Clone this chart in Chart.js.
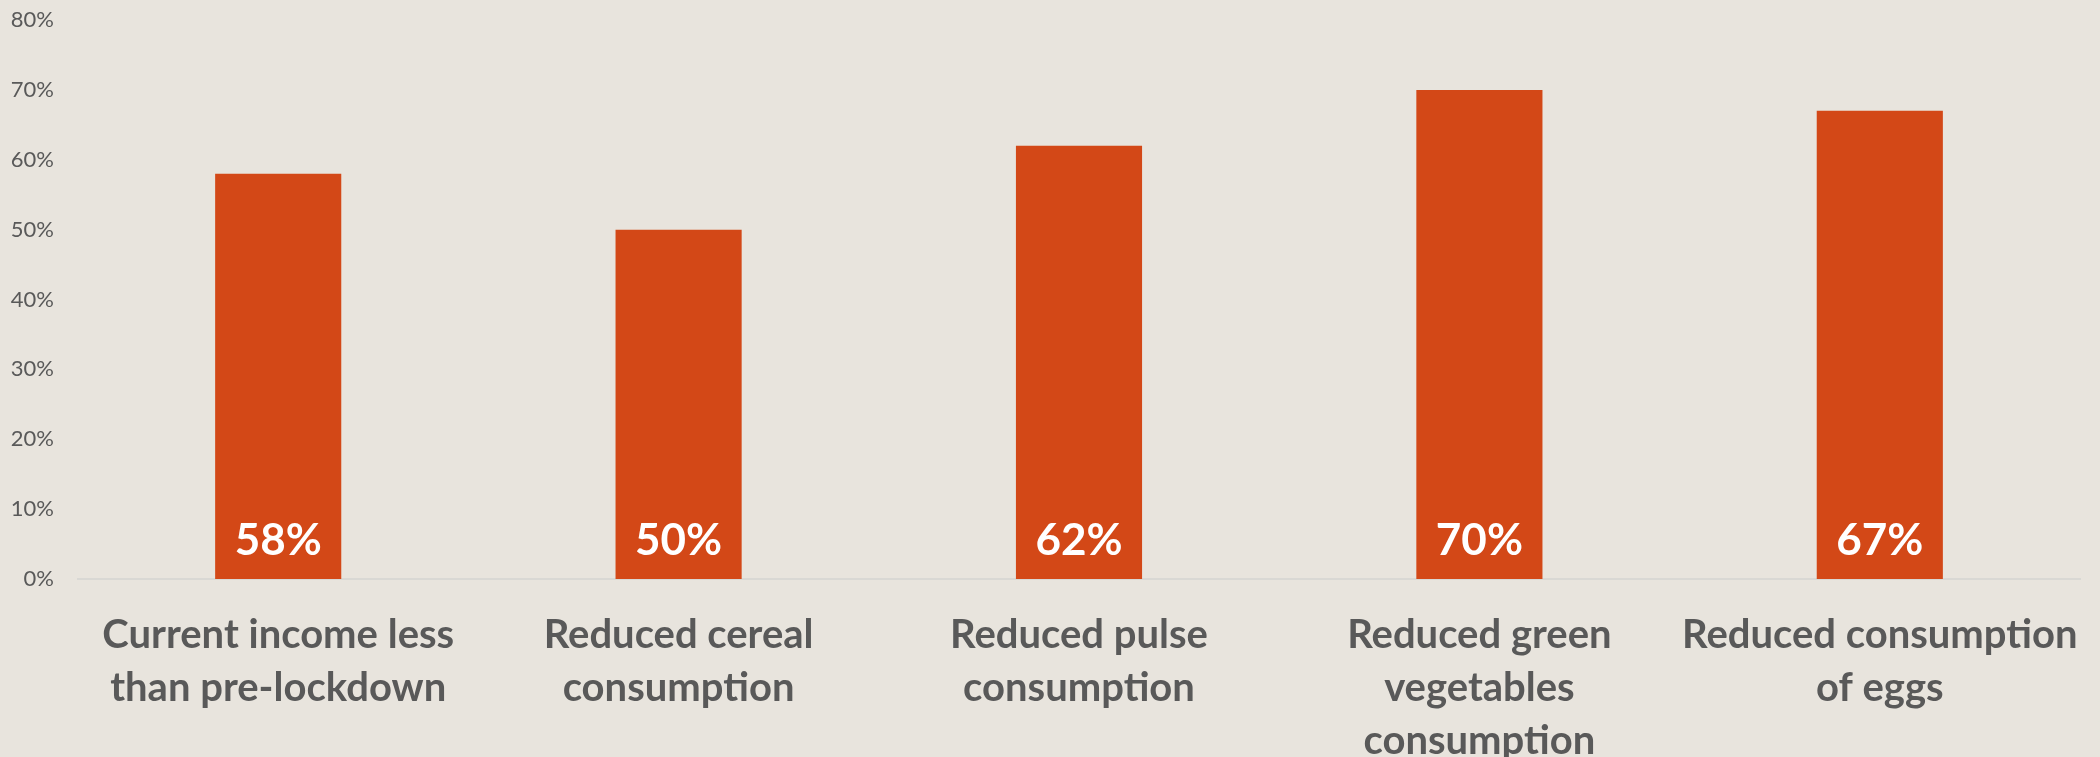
<!DOCTYPE html>
<html>
<head>
<meta charset="utf-8">
<script src="https://cdn.jsdelivr.net/npm/chart.js@4.4.1/dist/chart.umd.min.js"></script>
<style>
  html, body { margin: 0; padding: 0; background: #e8e4dd; }
  #wrap { width: 2100px; height: 757px; }
</style>
</head>
<body>
<div id="wrap"><canvas id="lockdownChart"></canvas></div>
<script>
const categories = [
  ['Current income less', 'than pre-lockdown'],
  ['Reduced cereal', 'consumption'],
  ['Reduced pulse', 'consumption'],
  ['Reduced green', 'vegetables', 'consumption'],
  ['Reduced consumption', 'of eggs']
];
const shares = [58, 50, 62, 70, 67];
const yTicks = [0, 10, 20, 30, 40, 50, 60, 70, 80];

const fontFamily = 'Lato, "Open Sans", sans-serif';
const barColor = '#d34817';
const textColor = '#595959';

// white percentage near the foot of each bar
const barValueLabels = {
  id: 'barValueLabels',
  afterDatasetsDraw(chart) {
    const ctx = chart.ctx;
    const meta = chart.getDatasetMeta(0);
    ctx.save();
    ctx.fillStyle = '#ffffff';
    ctx.font = 'bold 44px ' + fontFamily;
    ctx.textAlign = 'center';
    ctx.textBaseline = 'middle';
    meta.data.forEach(function (bar, i) {
      ctx.fillText(shares[i] + '%', bar.x, bar.base - 38);
    });
    ctx.restore();
  }
};

var ctx1 = document.getElementById('lockdownChart');
const lockdownChart = new Chart(ctx1, {
  type: 'bar',
  data: {
    labels: categories,
    datasets: [{
      data: shares,
      backgroundColor: barColor,
      borderWidth: 0,
      barPercentage: 1,
      categoryPercentage: 0.315
    }]
  },
  options: {
    responsive: true,
    maintainAspectRatio: false,
    animation: false,
    layout: {
      padding: { top: 20, right: 20, left: 0, bottom: 0 }
    },
    plugins: {
      legend: { display: false },
      tooltip: { enabled: false }
    },
    scales: {
      y: {
        min: 0,
        max: 80,
        afterBuildTicks: function (axis) {
          axis.ticks = yTicks.map(function (v) { return { value: v }; });
        },
        afterFit: function (axis) {
          // fixed gutter; tick padding should not push the plot down
          axis.width = 78;
          axis.paddingTop = 0;
          axis.paddingBottom = 0;
        },
        grid: { display: false, drawTicks: false },
        border: { display: false },
        ticks: {
          padding: 24,
          color: textColor,
          font: { family: fontFamily, size: 22 },
          callback: function (v) { return v + '%'; }
        }
      },
      x: {
        afterFit: function (axis) {
          axis.height = 178;
          axis.paddingLeft = 0;
          axis.paddingRight = 0;
        },
        grid: { display: false, drawTicks: false },
        border: { display: true, color: '#d9d8d4', width: 2 },
        ticks: {
          padding: 30,
          maxRotation: 0,
          autoSkip: false,
          color: textColor,
          font: { family: fontFamily, size: 40, weight: 'bold', lineHeight: 1.32 }
        }
      }
    }
  },
  plugins: [barValueLabels]
});
</script>
</body>
</html>
